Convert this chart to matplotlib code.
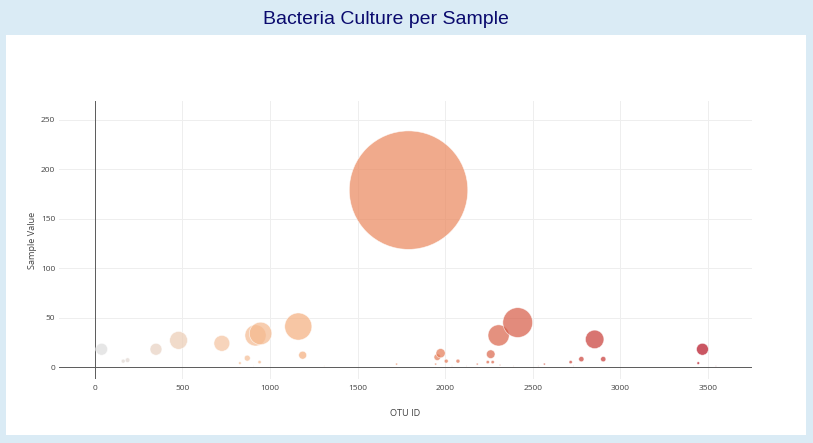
import matplotlib
matplotlib.use('Agg')
import matplotlib.pyplot as plt
from matplotlib.colors import LinearSegmentedColormap
from matplotlib.patches import Rectangle

otu_ids = [40, 163, 188, 350, 479, 726, 829, 871, 907, 918, 941, 947,
           1162, 1187, 1310, 1723, 1791, 1946, 1955, 1974, 2006, 2039,
           2073, 2121, 2183, 2243, 2260, 2271, 2305, 2313, 2391, 2414,
           2531, 2566, 2716, 2731, 2777, 2853, 2902, 3444, 3468, 3545]
sample_values = [18, 6, 7, 18, 27, 24, 4, 9, 1, 32, 5, 34,
                 41, 12, 1, 3, 179, 3, 10, 14, 6, 1,
                 6, 1, 3, 5, 13, 5, 32, 2, 1, 45,
                 1, 3, 5, 1, 8, 28, 8, 4, 18, 1]

x_ticks = [0, 500, 1000, 1500, 2000, 2500, 3000, 3500]
y_ticks = [0, 50, 100, 150, 200, 250]

# plotly "Reds" colour scale
reds = LinearSegmentedColormap.from_list('plotly_reds', [
    (0.0, (220/255, 220/255, 220/255)),
    (0.2, (245/255, 195/255, 157/255)),
    (0.4, (245/255, 160/255, 105/255)),
    (1.0, (178/255, 10/255, 28/255)),
])

fig = plt.figure(figsize=(8.13, 4.43), dpi=100, facecolor='#daebf5')
W, H = 813, 443

# white card behind the chart
fig.patches.append(Rectangle((6 / W, 1 - 435 / H), 800 / W, 400 / H,
                             transform=fig.transFigure, facecolor='white',
                             edgecolor='none', zorder=-5))

fig.text(386 / W, 1 - 19 / H, 'Bacteria Culture per Sample', ha='center',
         va='center', fontsize=14, color='#0a0a6e', family='Liberation Sans')

ax = fig.add_axes([58.7 / W, 1 - 379 / H, 693 / W, 278 / H])
ax.set_zorder(2)
ax.set_facecolor('none')

sizes = [(0.4766 * v) ** 2 for v in sample_values]
ax.scatter(otu_ids, sample_values, s=sizes, c=otu_ids, cmap=reds,
           vmin=min(otu_ids), vmax=max(otu_ids), alpha=0.7,
           edgecolors='white', linewidths=0.5, zorder=3)

ax.set_xlim(-205, 3749)
ax.set_ylim(-12.1, 269.2)
ax.set_xticks(x_ticks)
ax.set_yticks(y_ticks)
for t in x_ticks[1:]:
    ax.axvline(t, color='#eeeeee', lw=0.7, zorder=1)
for t in y_ticks[1:]:
    ax.axhline(t, color='#eeeeee', lw=0.7, zorder=1)
ax.axhline(0, color='#5a5a5a', lw=0.7, zorder=2)
ax.axvline(0, color='#5a5a5a', lw=0.7, zorder=2)

for s in ax.spines.values():
    s.set_visible(False)
ax.tick_params(axis='both', length=0, labelsize=6, labelcolor='#444444')
ax.tick_params(axis='x', pad=4)
ax.tick_params(axis='y', pad=2.5)
for lab in ax.get_xticklabels() + ax.get_yticklabels():
    lab.set_family('Open Sans')

fig.text(405 / W, 1 - 413 / H, 'OTU ID', ha='center', va='center',
         fontsize=6.6, color='#444444', family='Open Sans')
fig.text(32 / W, 1 - 240 / H, 'Sample Value', ha='center', va='center',
         rotation=90, fontsize=6.6, color='#444444', family='Open Sans')

fig.savefig('out.png', dpi=100, facecolor=fig.get_facecolor())
